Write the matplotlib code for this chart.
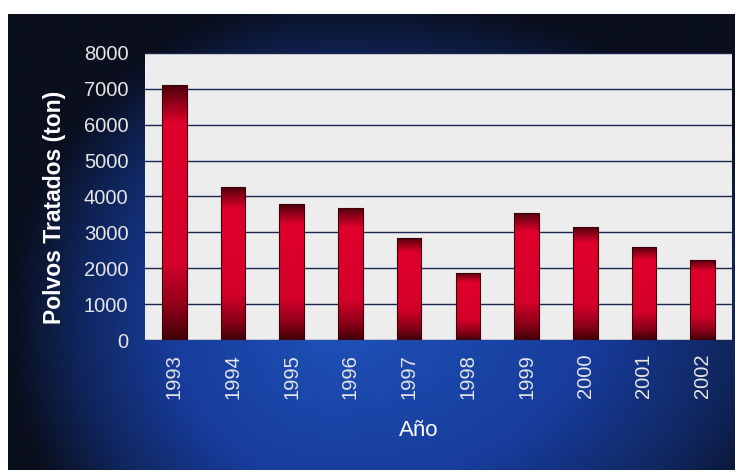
import numpy as np
import matplotlib.pyplot as plt
from matplotlib.colors import LinearSegmentedColormap

plt.rcParams['font.family'] = ['Liberation Sans', 'DejaVu Sans']

years = ['1993', '1994', '1995', '1996', '1997', '1998', '1999', '2000', '2001', '2002']
polvos = [7100, 4270, 3790, 3680, 2850, 1880, 3550, 3160, 2600, 2240]
yticks = [0, 1000, 2000, 3000, 4000, 5000, 6000, 7000, 8000]

fig = plt.figure(figsize=(7.4, 4.74), dpi=100, facecolor='white')

# fondo oscuro con degradado azul
bg = fig.add_axes([8/740, 4/474, 727/740, 456/474])
gx, gy = np.meshgrid(np.linspace(0, 1, 400), np.linspace(0, 1, 300))
sx = np.where(gx < 0.45, 0.45, 0.7)
r = np.sqrt(((gx - 0.45) / sx) ** 2 + ((gy - 0.32) / 0.72) ** 2)
bg_cmap = LinearSegmentedColormap.from_list(
    'bg', [(0, '#1f52b8'), (0.5, '#173c9c'), (0.78, '#10265e'), (1, '#0a0f1e')])
bg.imshow(np.clip(r, 0, 1), cmap=bg_cmap, aspect='auto', origin='lower', extent=[0, 1, 0, 1])
bg.set_axis_off()

ax = fig.add_axes([145/740, 1 - 340/474, 587/740, 287/474])
ax.set_facecolor('#ededed')
x = np.arange(len(years))
bars = ax.bar(x, polvos, width=0.42, color='none', edgecolor='#3a0008', linewidth=0.8, zorder=3)

bar_cmap = LinearSegmentedColormap.from_list(
    'bar', [(0, '#400009'), (0.12, '#8a0018'), (0.3, '#d4002a'), (0.85, '#e0002c'),
            (0.94, '#8a0018'), (1, '#4a000c')])
grad = np.linspace(0, 1, 256).reshape(-1, 1)
for b in bars:
    x0, y0 = b.get_x(), b.get_y()
    im = ax.imshow(grad, cmap=bar_cmap, aspect='auto', origin='lower', interpolation='bilinear',
                   extent=[x0, x0 + b.get_width(), y0, y0 + b.get_height()], zorder=2)
    im.set_clip_path(b)

ax.set_xlim(-0.5, len(years) - 0.5)
ax.set_ylim(0, 8000)
ax.set_yticks(yticks)
ax.set_xticks(x)
ax.set_xticklabels(years, rotation=90)
ax.grid(axis='y', color='#1a2550', linewidth=1.0, zorder=1)
ax.set_axisbelow(True)
ax.tick_params(axis='both', length=0, colors='#e6e6e6', labelsize=14.5)
ax.tick_params(axis='y', pad=12)
ax.tick_params(axis='x', pad=10)
for s in ax.spines.values():
    s.set_visible(False)

ax.set_ylabel('Polvos Tratados (ton)', color='white', fontsize=16.5, fontweight='bold')
ax.yaxis.set_label_coords((55 - 145) / 587, (340 - 207) / 287)
ax.set_xlabel('Año', color='white', fontsize=16)
ax.xaxis.set_label_coords((419 - 145) / 587, (340 - 431) / 287)
ax.xaxis.label.set_va('center')
ax.yaxis.label.set_va('center')

fig.savefig('out.png', dpi=100, facecolor='white')
